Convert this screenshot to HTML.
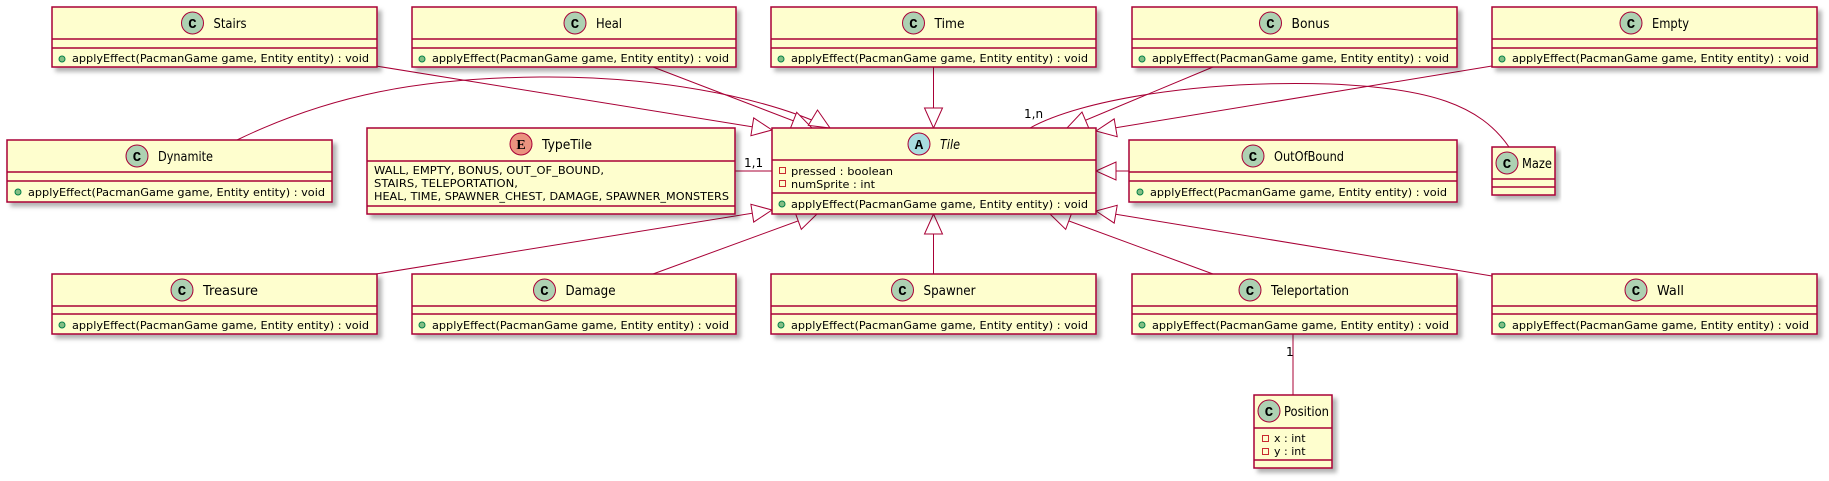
<!DOCTYPE html>
<html><head><meta charset="utf-8"><style>
html,body{margin:0;padding:0;background:#fff;}
svg{display:block;}
text{font-family:"DejaVu Sans","Liberation Sans",sans-serif;fill:#000;}
.b{fill:#FEFECE;stroke:#A80036;stroke-width:1.5;filter:url(#sh);}
.l{stroke:#A80036;stroke-width:1.5;}
.e{fill:none;stroke:#A80036;stroke-width:1;}
.h{fill:#fff;stroke:#A80036;stroke-width:1;}
.n{font-size:13px;}
.m{font-size:11px;}
.ci{stroke:#A80036;stroke-width:1;}
.ic{font-size:14px;font-weight:bold;font-family:"Liberation Mono","DejaVu Sans Mono",monospace;}
.g{fill:#84BE84;stroke:#038048;stroke-width:1;}
.r{fill:none;stroke:#C82930;stroke-width:1;}
</style></head><body>
<svg width="1829" height="481" viewBox="0 0 1829 481" xmlns="http://www.w3.org/2000/svg">
<defs><filter id="sh" x="-5%" y="-10%" width="115%" height="130%"><feDropShadow dx="4" dy="4" stdDeviation="2" flood-color="#000" flood-opacity="0.3"/></filter></defs>

<g class="e">
<line x1="376" y1="66" x2="772" y2="130"/>
<line x1="653" y1="67" x2="812" y2="128"/>
<path d="M237,140 C330,95 420,78 540,77 C650,76 760,95 830,128"/>
<line x1="933.5" y1="67" x2="933.5" y2="128"/>
<line x1="1213" y1="67" x2="1067" y2="128"/>
<path d="M1509,147 C1480,105 1430,88 1330,84 C1200,80 1080,100 1030,128"/>
<line x1="1492" y1="66" x2="1096" y2="131"/>
<line x1="1129" y1="171" x2="1096" y2="171"/>
<line x1="376" y1="274" x2="772" y2="210"/>
<line x1="653" y1="274" x2="817" y2="214"/>
<line x1="933.5" y1="274" x2="933.5" y2="214"/>
<line x1="1213" y1="274" x2="1050" y2="214"/>
<line x1="1492" y1="276" x2="1096" y2="211"/>
<line x1="735" y1="171" x2="772" y2="171"/>
<line x1="1293" y1="334" x2="1293" y2="395"/>
</g>
<g class="h">
<polygon points="772,130 750.9,135.7 753.7,117.9"/>
<polygon points="812,128 790.1,129.1 796.7,112.3"/>
<polygon points="830,128 808.3,125.4 817.5,110"/>
<polygon points="933.5,128 924.5,108 942.5,108"/>
<polygon points="1067,128 1089,128.6 1082,112"/>
<polygon points="1096,131 1117.2,136.7 1114.2,118.9"/>
<polygon points="1096,171 1116,162 1116,180"/>
<polygon points="772,210 753.7,222.1 750.9,204.3"/>
<polygon points="817,214 801.3,229.3 795.1,212.4"/>
<polygon points="933.5,214 924.5,234 942.5,234"/>
<polygon points="1050,214 1071.9,212.5 1065.7,229.4"/>
<polygon points="1096,211 1117.2,205.3 1114.2,223.1"/>
</g>
<text class="m" x="1024" y="118" style="font-size:12px">1,n</text>
<text class="m" x="744" y="167" style="font-size:12px">1,1</text>
<text class="m" x="1286" y="356" style="font-size:12px">1</text>

<!-- Stairs -->
<rect class="b" x="52" y="7" width="325" height="60"/><line class="l" x1="52" y1="39" x2="377" y2="39"/><line class="l" x1="52" y1="48" x2="377" y2="48"/>
<circle class="ci" cx="192.5" cy="23" r="11" fill="#ADD1B2"/><text class="ic" x="192.5" y="28" text-anchor="middle">C</text>
<text class="n" x="213.5" y="28" textLength="33" lengthAdjust="spacingAndGlyphs">Stairs</text>
<circle class="g" cx="62" cy="59" r="3"/><text class="m" x="72" y="62" textLength="297" lengthAdjust="spacingAndGlyphs">applyEffect(PacmanGame game, Entity entity) : void</text>

<!-- Heal -->
<rect class="b" x="412" y="7" width="324" height="60"/><line class="l" x1="412" y1="39" x2="736" y2="39"/><line class="l" x1="412" y1="48" x2="736" y2="48"/>
<circle class="ci" cx="575" cy="23" r="11" fill="#ADD1B2"/><text class="ic" x="575" y="28" text-anchor="middle">C</text>
<text class="n" x="596" y="28" textLength="26" lengthAdjust="spacingAndGlyphs">Heal</text>
<circle class="g" cx="422" cy="59" r="3"/><text class="m" x="432" y="62" textLength="297" lengthAdjust="spacingAndGlyphs">applyEffect(PacmanGame game, Entity entity) : void</text>

<!-- Time -->
<rect class="b" x="771" y="7" width="325" height="60"/><line class="l" x1="771" y1="39" x2="1096" y2="39"/><line class="l" x1="771" y1="48" x2="1096" y2="48"/>
<circle class="ci" cx="913.5" cy="23" r="11" fill="#ADD1B2"/><text class="ic" x="913.5" y="28" text-anchor="middle">C</text>
<text class="n" x="934.5" y="28" textLength="30" lengthAdjust="spacingAndGlyphs">Time</text>
<circle class="g" cx="781" cy="59" r="3"/><text class="m" x="791" y="62" textLength="297" lengthAdjust="spacingAndGlyphs">applyEffect(PacmanGame game, Entity entity) : void</text>

<!-- Bonus -->
<rect class="b" x="1132" y="7" width="325" height="60"/><line class="l" x1="1132" y1="39" x2="1457" y2="39"/><line class="l" x1="1132" y1="48" x2="1457" y2="48"/>
<circle class="ci" cx="1270.5" cy="23" r="11" fill="#ADD1B2"/><text class="ic" x="1270.5" y="28" text-anchor="middle">C</text>
<text class="n" x="1291.5" y="28" textLength="38" lengthAdjust="spacingAndGlyphs">Bonus</text>
<circle class="g" cx="1142" cy="59" r="3"/><text class="m" x="1152" y="62" textLength="297" lengthAdjust="spacingAndGlyphs">applyEffect(PacmanGame game, Entity entity) : void</text>

<!-- Empty -->
<rect class="b" x="1492" y="7" width="325" height="60"/><line class="l" x1="1492" y1="39" x2="1817" y2="39"/><line class="l" x1="1492" y1="48" x2="1817" y2="48"/>
<circle class="ci" cx="1631" cy="23" r="11" fill="#ADD1B2"/><text class="ic" x="1631" y="28" text-anchor="middle">C</text>
<text class="n" x="1652" y="28" textLength="37" lengthAdjust="spacingAndGlyphs">Empty</text>
<circle class="g" cx="1502" cy="59" r="3"/><text class="m" x="1512" y="62" textLength="297" lengthAdjust="spacingAndGlyphs">applyEffect(PacmanGame game, Entity entity) : void</text>

<!-- Dynamite -->
<rect class="b" x="7" y="140" width="325" height="62"/><line class="l" x1="7" y1="172" x2="332" y2="172"/><line class="l" x1="7" y1="181" x2="332" y2="181"/>
<circle class="ci" cx="137" cy="156" r="11" fill="#ADD1B2"/><text class="ic" x="137" y="161" text-anchor="middle">C</text>
<text class="n" x="158" y="161" textLength="55" lengthAdjust="spacingAndGlyphs">Dynamite</text>
<circle class="g" cx="18" cy="192" r="3"/><text class="m" x="28" y="196" textLength="297" lengthAdjust="spacingAndGlyphs">applyEffect(PacmanGame game, Entity entity) : void</text>

<!-- TypeTile -->
<rect class="b" x="367" y="128" width="368" height="86"/><line class="l" x1="367" y1="161" x2="735" y2="161"/><line class="l" x1="367" y1="206" x2="735" y2="206"/>
<circle class="ci" cx="521" cy="144" r="11" fill="#EB937F"/><text class="ic" x="521" y="149" text-anchor="middle" style="font-family:'Liberation Serif',serif">E</text>
<text class="n" x="542" y="149" textLength="50" lengthAdjust="spacingAndGlyphs">TypeTile</text>
<text class="m" x="374" y="174" textLength="230" lengthAdjust="spacingAndGlyphs">WALL, EMPTY, BONUS, OUT_OF_BOUND,</text>
<text class="m" x="374" y="187" textLength="144" lengthAdjust="spacingAndGlyphs">STAIRS, TELEPORTATION,</text>
<text class="m" x="374" y="200" textLength="355" lengthAdjust="spacingAndGlyphs">HEAL, TIME, SPAWNER_CHEST, DAMAGE, SPAWNER_MONSTERS</text>

<!-- Tile -->
<rect class="b" x="772" y="128" width="324" height="86"/><line class="l" x1="772" y1="160" x2="1096" y2="160"/><line class="l" x1="772" y1="193" x2="1096" y2="193"/>
<circle class="ci" cx="919" cy="144" r="11" fill="#A9DCDF"/><text class="ic" x="919" y="149" text-anchor="middle">A</text>
<text class="n" x="940" y="149" font-style="italic" textLength="20" lengthAdjust="spacingAndGlyphs">Tile</text>
<rect class="r" x="779.5" y="167.5" width="6" height="6"/><text class="m" x="791" y="175" textLength="102" lengthAdjust="spacingAndGlyphs">pressed : boolean</text>
<rect class="r" x="779.5" y="180.5" width="6" height="6"/><text class="m" x="791" y="188" textLength="84" lengthAdjust="spacingAndGlyphs">numSprite : int</text>
<circle class="g" cx="782" cy="204" r="3"/><text class="m" x="791" y="208" textLength="297" lengthAdjust="spacingAndGlyphs">applyEffect(PacmanGame game, Entity entity) : void</text>

<!-- OutOfBound -->
<rect class="b" x="1129" y="140" width="328" height="62"/><line class="l" x1="1129" y1="172" x2="1457" y2="172"/><line class="l" x1="1129" y1="181" x2="1457" y2="181"/>
<circle class="ci" cx="1253" cy="156" r="11" fill="#ADD1B2"/><text class="ic" x="1253" y="161" text-anchor="middle">C</text>
<text class="n" x="1274" y="161" textLength="70" lengthAdjust="spacingAndGlyphs">OutOfBound</text>
<circle class="g" cx="1140" cy="192" r="3"/><text class="m" x="1150" y="196" textLength="297" lengthAdjust="spacingAndGlyphs">applyEffect(PacmanGame game, Entity entity) : void</text>

<!-- Maze -->
<rect class="b" x="1492" y="147" width="63" height="48"/><line class="l" x1="1492" y1="179" x2="1555" y2="179"/><line class="l" x1="1492" y1="187" x2="1555" y2="187"/>
<circle class="ci" cx="1507" cy="163" r="11" fill="#ADD1B2"/><text class="ic" x="1507" y="168" text-anchor="middle">C</text>
<text class="n" x="1522" y="168" textLength="30" lengthAdjust="spacingAndGlyphs">Maze</text>

<!-- Treasure -->
<rect class="b" x="52" y="274" width="325" height="60"/><line class="l" x1="52" y1="306" x2="377" y2="306"/><line class="l" x1="52" y1="314" x2="377" y2="314"/>
<circle class="ci" cx="182" cy="290" r="11" fill="#ADD1B2"/><text class="ic" x="182" y="295" text-anchor="middle">C</text>
<text class="n" x="203" y="295" textLength="55" lengthAdjust="spacingAndGlyphs">Treasure</text>
<circle class="g" cx="62" cy="325" r="3"/><text class="m" x="72" y="329" textLength="297" lengthAdjust="spacingAndGlyphs">applyEffect(PacmanGame game, Entity entity) : void</text>

<!-- Damage -->
<rect class="b" x="412" y="274" width="324" height="60"/><line class="l" x1="412" y1="306" x2="736" y2="306"/><line class="l" x1="412" y1="314" x2="736" y2="314"/>
<circle class="ci" cx="544.5" cy="290" r="11" fill="#ADD1B2"/><text class="ic" x="544.5" y="295" text-anchor="middle">C</text>
<text class="n" x="565.5" y="295" textLength="50" lengthAdjust="spacingAndGlyphs">Damage</text>
<circle class="g" cx="422" cy="325" r="3"/><text class="m" x="432" y="329" textLength="297" lengthAdjust="spacingAndGlyphs">applyEffect(PacmanGame game, Entity entity) : void</text>

<!-- Spawner -->
<rect class="b" x="771" y="274" width="325" height="60"/><line class="l" x1="771" y1="306" x2="1096" y2="306"/><line class="l" x1="771" y1="314" x2="1096" y2="314"/>
<circle class="ci" cx="902.5" cy="290" r="11" fill="#ADD1B2"/><text class="ic" x="902.5" y="295" text-anchor="middle">C</text>
<text class="n" x="923.5" y="295" textLength="52" lengthAdjust="spacingAndGlyphs">Spawner</text>
<circle class="g" cx="781" cy="325" r="3"/><text class="m" x="791" y="329" textLength="297" lengthAdjust="spacingAndGlyphs">applyEffect(PacmanGame game, Entity entity) : void</text>

<!-- Teleportation -->
<rect class="b" x="1132" y="274" width="325" height="60"/><line class="l" x1="1132" y1="306" x2="1457" y2="306"/><line class="l" x1="1132" y1="314" x2="1457" y2="314"/>
<circle class="ci" cx="1250" cy="290" r="11" fill="#ADD1B2"/><text class="ic" x="1250" y="295" text-anchor="middle">C</text>
<text class="n" x="1271" y="295" textLength="78" lengthAdjust="spacingAndGlyphs">Teleportation</text>
<circle class="g" cx="1142" cy="325" r="3"/><text class="m" x="1152" y="329" textLength="297" lengthAdjust="spacingAndGlyphs">applyEffect(PacmanGame game, Entity entity) : void</text>

<!-- Wall -->
<rect class="b" x="1492" y="274" width="325" height="60"/><line class="l" x1="1492" y1="306" x2="1817" y2="306"/><line class="l" x1="1492" y1="314" x2="1817" y2="314"/>
<circle class="ci" cx="1636" cy="290" r="11" fill="#ADD1B2"/><text class="ic" x="1636" y="295" text-anchor="middle">C</text>
<text class="n" x="1657" y="295" textLength="27" lengthAdjust="spacingAndGlyphs">Wall</text>
<circle class="g" cx="1502" cy="325" r="3"/><text class="m" x="1512" y="329" textLength="297" lengthAdjust="spacingAndGlyphs">applyEffect(PacmanGame game, Entity entity) : void</text>

<!-- Position -->
<rect class="b" x="1254" y="395" width="78" height="73"/><line class="l" x1="1254" y1="428" x2="1332" y2="428"/><line class="l" x1="1254" y1="460" x2="1332" y2="460"/>
<circle class="ci" cx="1269" cy="411" r="11" fill="#ADD1B2"/><text class="ic" x="1269" y="416" text-anchor="middle">C</text>
<text class="n" x="1284" y="416" textLength="45" lengthAdjust="spacingAndGlyphs">Position</text>
<rect class="r" x="1262.5" y="435.5" width="6" height="6"/><text class="m" x="1274" y="442">x : int</text>
<rect class="r" x="1262.5" y="448.5" width="6" height="6"/><text class="m" x="1274" y="455">y : int</text>
</svg>
</body></html>
